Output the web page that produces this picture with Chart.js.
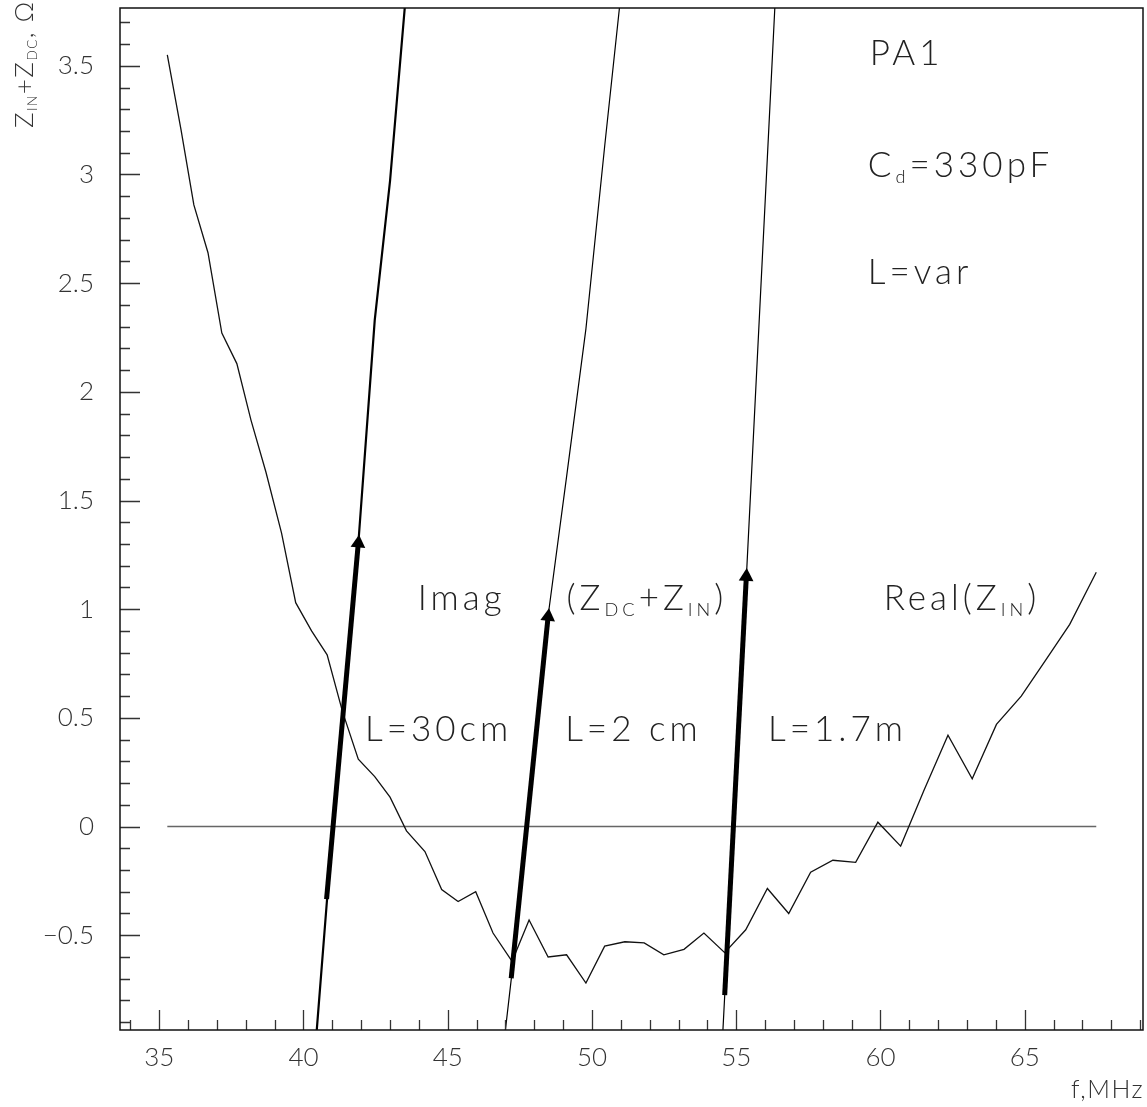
<!DOCTYPE html>
<html>
<head>
<meta charset="utf-8">
<script src="https://cdn.jsdelivr.net/npm/chart.js@4/dist/chart.umd.min.js"></script>
<style>
  html, body { margin: 0; padding: 0; background: #fff; }
  canvas { display: block; }
</style>
</head>
<body>
<canvas id="zinChart" width="1147" height="1107"></canvas>
<script>
// Real(Z_IN) vs frequency, MHz
var freq = [35.28, 35.75, 36.20, 36.69, 37.17, 37.69, 38.18, 38.70, 39.24, 39.73,
            40.28, 40.82, 41.35, 41.90, 42.47, 43.00, 43.57, 44.21, 44.79, 45.36,
            45.97, 46.57, 47.23, 47.82, 48.48, 49.12, 49.79, 50.44, 51.14, 51.81,
            52.49, 53.19, 53.88, 54.60, 55.33, 56.08, 56.82, 57.58, 58.35, 59.14,
            59.91, 60.70, 61.52, 62.34, 63.18, 64.02, 64.88, 65.75, 66.56, 67.48];
var realZin = [3.55, 3.21, 2.86, 2.64, 2.27, 2.13, 1.87, 1.63, 1.35, 1.03,
               0.90, 0.79, 0.53, 0.31, 0.23, 0.135, -0.02, -0.115, -0.29, -0.345,
               -0.30, -0.49, -0.62, -0.43, -0.60, -0.59, -0.72, -0.55, -0.53, -0.535,
               -0.59, -0.565, -0.49, -0.58, -0.475, -0.285, -0.40, -0.21, -0.155, -0.165,
               0.02, -0.09, 0.17, 0.42, 0.22, 0.47, 0.60, 0.77, 0.93, 1.17];

// Imag(Z_DC+Z_IN) for the three cable lengths
var imag30cmFreq = [40.28, 40.82, 41.35, 41.90, 42.47, 43.00, 43.57];
var imag30cm     = [-1.24, -0.33, 0.50, 1.30, 2.33, 2.97, 3.86];
var imag2cmFreq  = [46.57, 47.23, 47.82, 48.48, 49.12, 49.79, 50.44, 51.14];
var imag2cm      = [-1.43, -0.67, 0.10, 0.97, 1.61, 2.29, 3.13, 4.00];
var imag17mFreq  = [53.88, 54.60, 55.33, 56.08, 56.82];
var imag17m      = [-2.63, -0.78, 1.09, 3.08, 5.05];

// arrows along the Imag curves (start -> end)
var arrowFromX = [40.80, 47.20, 54.60];
var arrowFromY = [-0.334, -0.698, -0.775];
var arrowToX   = [41.90, 48.48, 55.35];
var arrowToY   = [1.304, 0.966, 1.150];

var zeroLineX = [35.28, 67.48];

var xMin = 33.64, xMax = 69.1;
var yMin = -0.936, yMax = 3.766;

function pts(xs, ys) {
  return xs.map(function (x, i) { return { x: x, y: ys[i] }; });
}

var FONT = 'Lato, "Open Sans", "DejaVu Sans", sans-serif';

// draw text with subscripts, parts = [[text, isSub], ...]
function drawRich(ctx, parts, x, y, size, spacing) {
  var cx = x;
  ctx.letterSpacing = spacing + 'px';
  parts.forEach(function (p) {
    var s = p[1] ? size * 0.52 : size;
    ctx.font = '300 ' + s + 'px ' + FONT;
    ctx.fillText(p[0], cx, p[1] ? y + size * 0.17 : y);
    cx += ctx.measureText(p[0]).width;
  });
  ctx.letterSpacing = '0px';
}

var arrowDatasets = arrowFromX.map(function (fx, i) {
  return {
    data: [{ x: fx, y: arrowFromY[i] }, { x: arrowToX[i], y: arrowToY[i] }],
    borderColor: '#000',
    backgroundColor: '#000',
    borderWidth: 5,
    pointRadius: [0, 8.5],
    pointStyle: 'triangle',
    pointBorderWidth: 0,
    pointRotation: function (ctx) {
      var c = ctx.chart;
      var sx = c.scales.x, sy = c.scales.y;
      var dx = sx.getPixelForValue(arrowToX[i]) - sx.getPixelForValue(fx);
      var dy = sy.getPixelForValue(arrowToY[i]) - sy.getPixelForValue(arrowFromY[i]);
      return Math.atan2(dx, -dy) * 180 / Math.PI;
    }
  };
});

var framePlugin = {
  id: 'frame',
  afterDraw: function (chart) {
    var ctx = chart.ctx;
    var a = chart.chartArea;
    var sx = chart.scales.x, sy = chart.scales.y;
    ctx.save();
    // inward ticks
    ctx.strokeStyle = '#333';
    ctx.lineWidth = 1.3;
    ctx.beginPath();
    for (var v = Math.ceil(xMin); v <= Math.floor(xMax); v++) {
      var px = Math.round(sx.getPixelForValue(v)) + 0.5;
      var len = v % 5 === 0 ? 20 : 10;
      ctx.moveTo(px, a.bottom);
      ctx.lineTo(px, a.bottom - len);
    }
    for (var k = Math.ceil(yMin * 10); k <= Math.floor(yMax * 10); k++) {
      var py = Math.round(sy.getPixelForValue(k / 10)) + 0.5;
      var l = k % 5 === 0 ? 20 : 10;
      ctx.moveTo(a.left, py);
      ctx.lineTo(a.left + l, py);
    }
    ctx.stroke();
    // frame
    ctx.strokeStyle = '#111';
    ctx.lineWidth = 1.5;
    ctx.strokeRect(a.left, a.top, a.right - a.left, a.bottom - a.top);

    // annotations
    ctx.fillStyle = '#222';
    ctx.textBaseline = 'alphabetic';
    ctx.textAlign = 'left';
    function at(x, y) { return [sx.getPixelForValue(x), sy.getPixelForValue(y)]; }
    var labels = [
      [[['PA1', false]], 59.63, 3.505],
      [[['C', false], ['d', true], ['=330pF', false]], 59.56, 2.99],
      [[['L=var', false]], 59.56, 2.496],
      [[['Imag', false]], 43.96, 0.997],
      [[['(Z', false], ['DC', true], ['+Z', false], ['IN', true], [')', false]], 49.12, 0.997],
      [[['Real(Z', false], ['IN', true], [')', false]], 60.11, 0.997],
      [[['L=30cm', false]], 42.13, 0.394],
      [[['L=2 cm', false]], 49.07, 0.394],
      [[['L=1.7m', false]], 56.10, 0.394]
    ];
    labels.forEach(function (lb) {
      var p = at(lb[1], lb[2]);
      drawRich(ctx, lb[0], p[0], p[1], 35, 4);
    });

    // axis titles
    ctx.fillStyle = '#333';
    drawRich(ctx, [['f,MHz', false]], 1071, 1098, 25, 1.5);
    ctx.translate(33, 128);
    ctx.rotate(-Math.PI / 2);
    drawRich(ctx, [['Z', false], ['IN', true], ['+Z', false], ['DC', true], [', \u03A9', false]], 0, 0, 26, 1.5);
    ctx.restore();
  }
};

function noPad(s) {
  s.paddingTop = 0; s.paddingBottom = 0;
  s.paddingLeft = 0; s.paddingRight = 0;
}

new Chart(document.getElementById('zinChart').getContext('2d'), {
  type: 'line',
  data: {
    datasets: arrowDatasets.concat([
      {
        data: pts(imag30cmFreq, imag30cm),
        borderColor: '#000', borderWidth: 2.2, pointRadius: 0
      },
      {
        data: pts(imag2cmFreq, imag2cm),
        borderColor: '#000', borderWidth: 1.2, pointRadius: 0
      },
      {
        data: pts(imag17mFreq, imag17m),
        borderColor: '#000', borderWidth: 1.2, pointRadius: 0
      },
      {
        data: pts(freq, realZin),
        borderColor: '#111', borderWidth: 1.3, pointRadius: 0
      },
      {
        data: pts(zeroLineX, [0, 0]),
        borderColor: '#666', borderWidth: 1.5, pointRadius: 0
      }
    ])
  },
  options: {
    responsive: false,
    animation: false,
    devicePixelRatio: 1,
    layout: { autoPadding: false, padding: { top: 8, right: 4, left: 0, bottom: 0 } },
    plugins: { legend: { display: false }, tooltip: { enabled: false } },
    elements: { line: { tension: 0 } },
    scales: {
      x: {
        type: 'linear',
        min: xMin, max: xMax,
        grid: { display: false, drawTicks: false },
        border: { display: false },
        ticks: {
          stepSize: 5, includeBounds: false, padding: 12,
          color: '#333',
          font: { family: FONT, size: 26, weight: 300 },
          callback: function (v) { return String(v); }
        },
        afterFit: function (s) { s.height = 77; noPad(s); }
      },
      y: {
        type: 'linear',
        min: yMin, max: yMax,
        grid: { display: false, drawTicks: false },
        border: { display: false },
        ticks: {
          stepSize: 0.5, includeBounds: false, padding: 26,
          color: '#333',
          font: { family: FONT, size: 26, weight: 300 },
          callback: function (v) {
            var r = Math.round(v * 10) / 10;
            return String(r).replace('-', '\u2212');
          }
        },
        afterFit: function (s) { s.width = 120; noPad(s); }
      }
    }
  },
  plugins: [framePlugin]
});
</script>
</body>
</html>
